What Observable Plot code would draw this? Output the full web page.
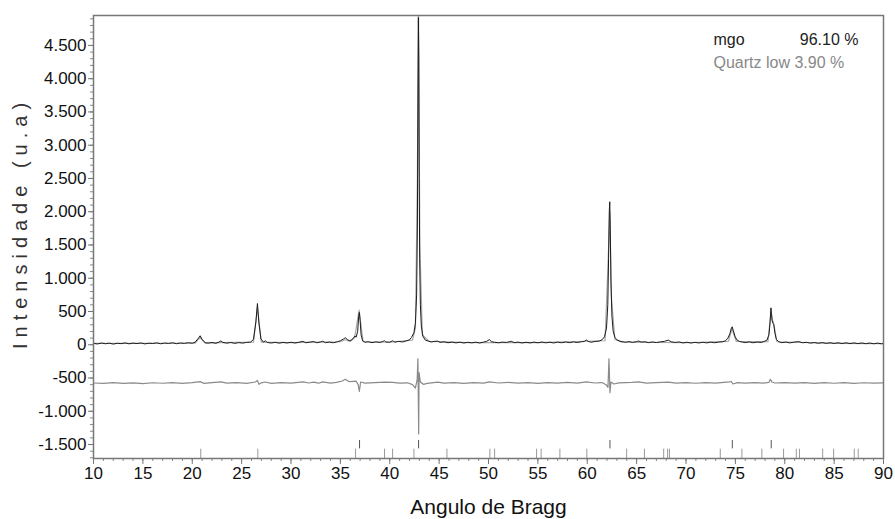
<!DOCTYPE html>
<html>
<head>
<meta charset="utf-8">
<script src="https://cdn.jsdelivr.net/npm/d3@7"></script>
<script src="https://cdn.jsdelivr.net/npm/@observablehq/plot@0.6"></script>
<style>
  body { margin: 0; background: #fff; }
  svg { font-family: "Liberation Sans", Arial, sans-serif; }
</style>
</head>
<body>
<div id="chart"></div>
<script>
// Observed pattern [2theta, intensity]
const observed = [[10,20],[10.4,12],[10.8,26],[11.2,15],[11.6,24],[12.0,10],[12.4,22],[12.8,17],[13.2,28],[13.6,14],[14.0,25],[14.4,18],[14.8,27],[15.2,13],[15.6,23],[16.0,19],[16.4,29],[16.8,15],[17.2,26],[17.6,20],[18.0,30],[18.4,16],[18.8,27],[19.2,21],[19.6,31],[20.0,24],[20.3,40],[20.6,95],[20.8,135],[21.0,80],[21.3,30],[21.6,25],[22.0,33],[22.4,22],[22.7,40],[22.9,58],[23.1,35],[23.5,24],[23.9,34],[24.3,21],[24.7,32],[25.1,25],[25.5,35],[25.9,40],[26.2,80],[26.45,350],[26.6,620],[26.75,330],[26.95,90],[27.2,40],[27.4,58],[27.6,35],[28.0,26],[28.4,36],[28.8,24],[29.2,35],[29.6,27],[30.0,38],[30.4,26],[30.8,37],[31.2,52],[31.5,30],[31.9,40],[32.3,48],[32.6,30],[33.0,42],[33.2,52],[33.5,31],[33.9,40],[34.3,30],[34.7,45],[35.0,60],[35.3,85],[35.5,105],[35.7,80],[35.9,62],[36.1,70],[36.3,95],[36.45,130],[36.6,115],[36.75,200],[36.85,420],[36.92,486],[37.0,360],[37.1,150],[37.25,60],[37.5,38],[37.8,45],[38.2,32],[38.6,43],[39.0,35],[39.3,48],[39.45,62],[39.6,42],[40.0,38],[40.3,60],[40.5,40],[40.9,50],[41.3,42],[41.7,60],[42.0,75],[42.2,110],[42.45,180],[42.6,330],[42.72,750],[42.8,1800],[42.86,3800],[42.9,4920],[42.94,4300],[42.98,2500],[43.03,1300],[43.1,600],[43.2,280],[43.35,130],[43.6,70],[43.9,55],[44.2,42],[44.5,50],[44.85,55],[45.1,36],[45.5,44],[45.9,30],[46.3,40],[46.7,28],[47.1,38],[47.5,26],[47.9,37],[48.3,29],[48.7,39],[49.1,27],[49.5,40],[49.8,50],[50.1,78],[50.3,45],[50.6,38],[51.0,30],[51.4,40],[51.8,35],[52.1,45],[52.3,52],[52.6,32],[53.0,40],[53.4,27],[53.8,38],[54.2,28],[54.6,40],[55.0,30],[55.4,41],[55.8,29],[56.2,38],[56.6,27],[57.0,40],[57.4,30],[57.8,42],[58.2,31],[58.6,43],[59.0,33],[59.4,45],[59.7,50],[59.9,72],[60.1,50],[60.4,38],[60.8,50],[61.2,55],[61.5,75],[61.75,120],[61.95,250],[62.08,600],[62.16,1300],[62.23,2000],[62.28,2150],[62.33,1750],[62.4,950],[62.5,430],[62.62,210],[62.8,110],[63.0,75],[63.3,55],[63.6,45],[63.9,38],[64.2,48],[64.6,36],[65.0,48],[65.2,55],[65.5,40],[65.8,46],[66.2,32],[66.6,42],[67.0,33],[67.4,44],[67.8,50],[68.2,70],[68.5,45],[68.9,35],[69.3,42],[69.7,28],[70.1,38],[70.5,26],[70.9,36],[71.3,27],[71.7,37],[72.1,28],[72.5,39],[72.9,30],[73.3,40],[73.7,45],[74.0,60],[74.25,100],[74.45,170],[74.6,255],[74.68,270],[74.8,210],[74.95,130],[75.15,75],[75.4,50],[75.7,40],[76.0,32],[76.4,42],[76.8,30],[77.2,40],[77.6,35],[77.9,48],[78.2,70],[78.4,150],[78.52,350],[78.6,555],[78.66,470],[78.72,360],[78.82,320],[78.9,300],[79.0,180],[79.15,80],[79.4,45],[79.7,32],[80.1,40],[80.5,28],[80.9,38],[81.4,48],[81.8,30],[82.2,37],[82.6,25],[83.0,34],[83.4,22],[83.8,33],[84.2,21],[84.6,31],[85.0,20],[85.4,30],[85.8,19],[86.2,29],[86.6,18],[87.0,28],[87.4,17],[87.8,27],[88.2,16],[88.6,26],[89.0,15],[89.4,25],[89.8,14],[90,20]];

// Calculated pattern
const calculated = [[10,20],[20.3,26],[20.8,110],[21.3,28],[26.2,40],[26.6,560],[27.0,40],[30,32],[35.0,45],[35.5,75],[36.0,50],[36.45,110],[36.9,520],[37.3,45],[40,38],[42.3,70],[42.6,250],[42.8,2500],[42.91,5200],[43.05,1500],[43.3,150],[44,50],[48,32],[55,32],[61.8,60],[62.1,1200],[62.28,2000],[62.45,700],[62.8,80],[63.5,40],[70,30],[74.3,50],[74.65,240],[75.1,50],[78.3,45],[78.6,480],[78.75,380],[78.9,300],[79.2,45],[85,22],[90,18]];

// Difference curve (offset)
const difference = [[10,-575],[11,-582],[12,-570],[13,-580],[14,-572],[15,-583],[16,-571],[17,-579],[18,-568],[19,-580],[20,-570],[20.8,-555],[21.2,-580],[22,-570],[22.9,-558],[23.5,-578],[24.5,-568],[25.5,-580],[26.4,-560],[26.6,-535],[26.75,-595],[27,-572],[27.4,-560],[28,-580],[29,-568],[30,-578],[31.2,-558],[31.8,-575],[32.3,-562],[32.8,-578],[33.2,-558],[34,-576],[34.6,-565],[35.2,-545],[35.5,-518],[35.9,-555],[36.3,-550],[36.6,-548],[36.8,-600],[36.92,-700],[37.05,-560],[37.5,-578],[38.5,-568],[39.5,-562],[40.3,-566],[41,-578],[41.8,-572],[42.3,-600],[42.6,-650],[42.78,-520],[42.85,-210],[42.9,-900],[42.93,-1340],[42.97,-420],[43.1,-560],[43.4,-595],[43.8,-580],[44.85,-562],[45.5,-578],[46.5,-568],[47.5,-580],[48.5,-570],[49.5,-578],[50.1,-558],[51,-575],[52,-565],[53,-578],[54,-570],[55,-580],[56,-569],[57,-578],[58,-566],[59,-576],[59.9,-558],[60.8,-575],[61.5,-568],[61.9,-600],[62.1,-640],[62.2,-210],[62.3,-720],[62.4,-560],[62.7,-590],[63.2,-572],[64.5,-566],[65.2,-558],[66,-576],[67,-568],[68.2,-562],[69,-578],[70,-570],[71,-579],[72,-568],[73,-577],[74.4,-558],[74.6,-552],[74.75,-590],[75.2,-570],[76,-578],[77,-568],[77.8,-576],[78.4,-565],[78.55,-520],[78.7,-560],[79,-575],[80,-568],[81,-578],[82,-570],[83,-580],[84,-570],[85,-579],[86,-570],[87,-580],[88,-571],[89,-578],[90,-574]];

// Bragg reflection positions
const mgoPeaks = [36.94, 42.92, 62.30, 74.69, 78.63];
const quartzPeaks = [20.86, 26.64, 36.54, 39.47, 40.29, 42.45, 45.79, 50.14, 50.62, 54.87, 55.33, 57.23, 59.96, 63.99, 65.79, 67.74, 68.14, 68.32, 73.47, 75.66, 77.68, 79.88, 81.17, 81.49, 83.84, 84.95, 87.04, 87.44];

// Tick values
const yMajor = [-1500,-1000,-500,0,500,1000,1500,2000,2500,3000,3500,4000,4500];
const xMajor = [10,15,20,25,30,35,40,45,50,55,60,65,70,75,80,85,90];

// Legend and axis titles
const phases = ["mgo", "Quartz low"];
const fractions = ["96.10 %", "3.90 %"];
const yTitle = "Intensidade (u.a)";
const xTitle = "Angulo de Bragg";

const fmt = d3.formatLocale({decimal: ",", thousands: ".", grouping: [3], currency: ["", ""], minus: "-"}).format(",d");
const yMinor = d3.range(-1700, 4901, 100);
const xMinor = d3.range(10, 91, 1);

const chart = Plot.plot({
  width: 895,
  height: 519,
  marginLeft: 93,
  marginRight: 12,
  marginTop: 15,
  marginBottom: 61,
  x: {domain: [10, 90]},
  y: {domain: [-1710, 4950]},
  style: {fontFamily: "Liberation Sans, Arial, sans-serif", background: "#fff"},
  marks: [
    Plot.axisY(yMinor, {tickSize: 3, text: null, stroke: "#888", label: null}),
    Plot.axisY(yMajor, {tickSize: 5, tickFormat: fmt, fontSize: 17, fill: "#111", stroke: "#777", tickPadding: 2, label: null}),
    Plot.axisX(xMinor, {tickSize: 3, text: null, stroke: "#888", label: null}),
    Plot.axisX(xMajor, {tickSize: 6, fontSize: 17, fill: "#111", stroke: "#777", tickPadding: 2, label: null}),
    Plot.ruleX(mgoPeaks, {y1: -1440, y2: -1565, stroke: "#555", strokeWidth: 1}),
    Plot.ruleX(quartzPeaks, {y1: -1570, y2: -1710, stroke: "#999", strokeWidth: 1}),
    Plot.line(difference, {x: d => d[0], y: d => d[1], stroke: "#8a8a8a", strokeWidth: 1.2, clip: true}),
    Plot.line(calculated, {x: d => d[0], y: d => d[1], stroke: "#a8a8a8", strokeWidth: 1.2, clip: true}),
    Plot.line(observed, {x: d => d[0], y: d => d[1], stroke: "#1c1c1c", strokeWidth: 1, clip: true}),
    Plot.frame({stroke: "#777", strokeWidth: 1.5}),
    Plot.text([phases[0]], {frameAnchor: "top-right", dx: -170, dy: 18, textAnchor: "start", fontSize: 16, fill: "#222"}),
    Plot.text([fractions[0]], {frameAnchor: "top-right", dx: -25, dy: 18, textAnchor: "end", fontSize: 16, fill: "#222"}),
    Plot.text([`${phases[1]} ${fractions[1]}`], {frameAnchor: "top-right", dx: -170, dy: 41, textAnchor: "start", fontSize: 16, fill: "#888"}),
    Plot.text([yTitle], {frameAnchor: "left", dx: -73, dy: -14, rotate: -90, textAnchor: "middle", fontSize: 20, fill: "#333"}),
    Plot.text([xTitle], {frameAnchor: "bottom", dy: 55, fontSize: 21, fill: "#111"})
  ]
});
d3.select(chart).selectAll("text")
  .filter(function() { return this.textContent === yTitle; })
  .style("letter-spacing", "6px");
document.getElementById("chart").appendChild(chart);
</script>
</body>
</html>
